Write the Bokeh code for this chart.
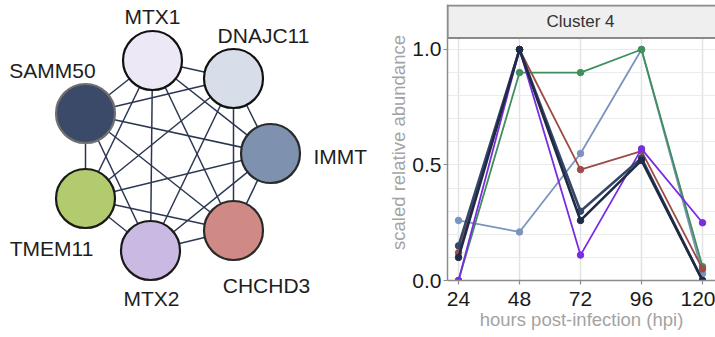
import itertools
from bokeh.plotting import figure
from bokeh.layouts import row
from bokeh.models import Range1d, FixedTicker, NumeralTickFormatter
from bokeh.core.properties import value
from bokeh.embed import file_html
from bokeh.resources import INLINE

FONT = "Liberation Sans"

# ---------------- network data ----------------
node_names = ["MTX1", "DNAJC11", "IMMT", "CHCHD3", "MTX2", "TMEM11", "SAMM50"]
node_x = [152, 233, 270, 233, 150, 85, 85]
node_y = [60, 78, 153, 230, 250, 198, 113]
node_fill = ["#ece8f5", "#d7dee9", "#7e92b0", "#cf8a86", "#c9b9e3", "#b2cb6e", "#3a4a68"]
node_line = ["#111111", "#111111", "#2a2a2a", "#2a2a2a", "#1a1a1a", "#1a1a1a", "#707070"]
label_x = [152, 263, 313, 266, 151, 51, 52]
label_y = [15.5, 35, 155.5, 284.5, 297.5, 247.5, 70]
label_align = ["center", "center", "left", "center", "center", "center", "center"]

# ---------------- time course data ----------------
hpi = [24, 48, 72, 96, 120]
series_names = ["light blue", "green", "brown", "purple", "navy", "dark navy"]
series_colors = ["#7b93bf", "#3f8f5a", "#9c4b46", "#7a2ce2", "#35466a", "#1f2a44"]
series_widths = [1.8, 1.8, 1.8, 1.8, 2.6, 2.6]
light_blue = [0.26, 0.21, 0.55, 1.00, 0.03]
green = [0.00, 0.90, 0.90, 1.00, 0.06]
brown = [0.12, 1.00, 0.48, 0.56, 0.05]
purple = [0.00, 1.00, 0.11, 0.57, 0.25]
navy = [0.15, 1.00, 0.30, 0.53, 0.00]
dark_navy = [0.10, 1.00, 0.26, 0.52, 0.00]
series_values = [light_blue, green, brown, purple, navy, dark_navy]
y_ticks = [0.0, 0.5, 1.0]
y_grid = [0.0, 0.1, 0.2, 0.3, 0.4, 0.5, 0.6, 0.7, 0.8, 0.9, 1.0]
panel_title = "Cluster 4"

# ---------------- left: network ----------------
pl = figure(width=383, height=337, x_range=Range1d(0, 383), y_range=Range1d(337, 0),
            x_axis_type=None, y_axis_type=None, output_backend="svg",
            toolbar_location=None, min_border=0)
pl.frame_align = False
pl.outline_line_color = None
pl.grid.visible = False

x0, y0, x1, y1 = [], [], [], []
for i, j in itertools.combinations(range(len(node_names)), 2):
    x0.append(node_x[i]); y0.append(node_y[i]); x1.append(node_x[j]); y1.append(node_y[j])
pl.segment(x0=x0, y0=y0, x1=x1, y1=y1, line_color="#2b3752", line_width=1.5)
pl.scatter(x=node_x, y=node_y, size=59, fill_color=node_fill, line_color=node_line,
           line_width=2.2)
pl.text(x=label_x, y=label_y, text=node_names, text_align=label_align,
        text_baseline="middle", text_font=value(FONT), text_font_size="21px",
        text_color="#1e1e1e")

# ---------------- right: line chart ----------------
y_top = 1.1948
pr = figure(width=332, height=337, x_range=Range1d(19.67, 125.1), y_range=Range1d(0, y_top),
            output_backend="svg", toolbar_location=None,
            min_border_left=64, min_border_right=0, min_border_top=4, min_border_bottom=57)
pr.frame_align = False
pr.outline_line_color = None
pr.background_fill_color = "white"

pr.xgrid.ticker = FixedTicker(ticks=hpi)
pr.ygrid.ticker = FixedTicker(ticks=y_grid)
pr.xgrid.grid_line_color = "#e3e3e3"
pr.ygrid.grid_line_color = "#ebebeb"
pr.xgrid.grid_line_width = 1.5
pr.ygrid.grid_line_width = 1

pr.xaxis.ticker = FixedTicker(ticks=hpi)
pr.yaxis.ticker = FixedTicker(ticks=y_ticks)
pr.yaxis.formatter = NumeralTickFormatter(format="0.0")
for ax in (pr.xaxis[0], pr.yaxis[0]):
    ax.axis_line_color = "#8c8c8c"
    ax.axis_line_width = 1.5
    ax.major_tick_line_color = "#8c8c8c"
    ax.major_tick_line_width = 1.2
    ax.major_tick_out = 4
    ax.major_tick_in = 0
    ax.minor_tick_line_color = None
    ax.major_label_text_font = FONT
    ax.major_label_text_font_size = "21px"
    ax.major_label_text_color = "#1a1a1a"
    ax.axis_label_text_font = FONT
    ax.axis_label_text_font_size = "18.5px"
    ax.axis_label_text_font_style = "normal"
    ax.axis_label_text_color = "#a3a3a3"
pr.xaxis.axis_label = "hours post-infection (hpi)"
pr.yaxis.axis_label = "scaled relative abundance"
pr.xaxis.major_label_standoff = 7
pr.xaxis.axis_label_standoff = 0
pr.yaxis.major_label_standoff = 2
pr.yaxis.axis_label_standoff = 0

# facet strip
pr.quad(left=[pr.x_range.start], right=[pr.x_range.end + 5], bottom=[1.05], top=[y_top - 0.004],
        fill_color="#efefef", line_color="#8a8a8a", line_width=2)
pr.text(x=[72], y=[1.122], text=[panel_title], text_align="center", text_baseline="middle",
        text_font=value(FONT), text_font_size="17px", text_color="#333333")

for name, vals, col, lw in zip(series_names, series_values, series_colors, series_widths):
    pr.line(hpi, vals, line_color=col, line_width=lw)
    pr.scatter(hpi, vals, size=6.5, fill_color=col, line_color=col)

layout = row(pl, pr)
open("out.html", "w").write(file_html(layout, INLINE))
